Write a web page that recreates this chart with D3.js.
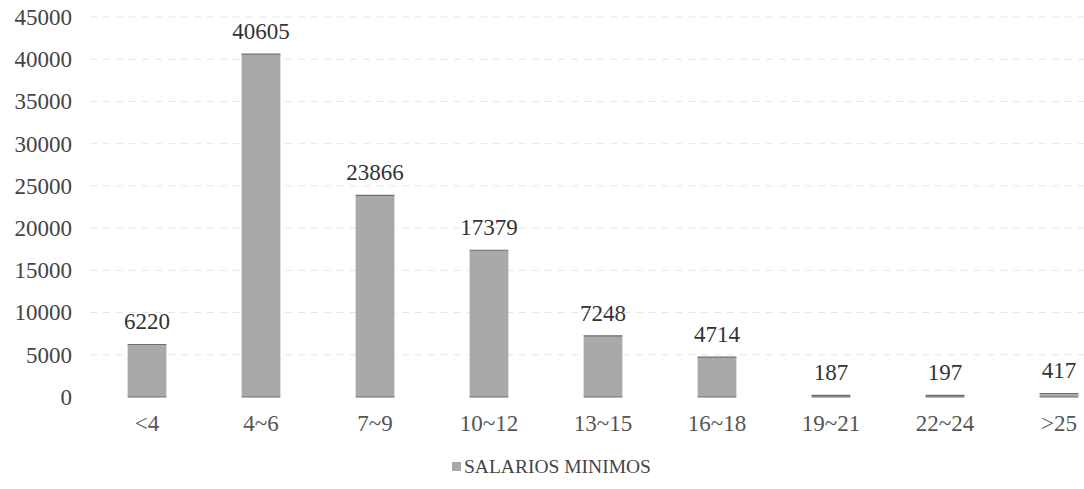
<html>
<script src='https://d3js.org/d3.v7.min.js'></script>
<style>
body {margin: 0; background: white;}
svg text {font-family: "Liberation Serif", "Times New Roman", Times, "DejaVu Serif", serif !important;}
</style>
<body>
<svg width=1084 height=489></svg>
<script>
var categories = ["<4", "4~6", "7~9", "10~12", "13~15", "16~18", "19~21", "22~24", ">25"];
var values = [6220, 40605, 23866, 17379, 7248, 4714, 187, 197, 417];
var yTicks = [0, 5000, 10000, 15000, 20000, 25000, 30000, 35000, 40000, 45000];
var seriesName = "SALARIOS MINIMOS";

var svg = d3.select("svg");

var x = d3.scaleBand().domain(categories).range([90, 1116]).paddingInner(0.66).paddingOuter(0.33);
var y = d3.scaleLinear().domain([0, 45000]).range([397, 17]);

// faint dashed gridlines
svg.append("g").selectAll("line").data(yTicks.slice(1)).enter().append("line")
	.attr("x1", 90).attr("x2", 1084)
	.attr("y1", d => y(d)).attr("y2", d => y(d))
	.attr("stroke", "#e6e6e6").attr("stroke-width", 1).attr("stroke-dasharray", "7,6");

// y axis
var yAxis = svg.append("g").attr("transform", "translate(80,0)")
	.call(d3.axisLeft(y).tickValues(yTicks).tickSize(0).tickPadding(8).tickFormat(d3.format("d")));
yAxis.attr("font-family", null).attr("font-size", null);
yAxis.select(".domain").remove();
yAxis.selectAll("text").style("font-size", "23px").attr("fill", "#444");

// bars
var bars = svg.append("g");
bars.selectAll("rect").data(values).enter().append("rect")
	.attr("x", (d, i) => x(categories[i]))
	.attr("y", d => y(d))
	.attr("width", x.bandwidth())
	.attr("height", d => y(0) - y(d))
	.attr("fill", "#a9a9a9");
// darker top and bottom edges of each bar
bars.selectAll("line.top").data(values).enter().append("line").attr("class", "top")
	.attr("x1", (d, i) => x(categories[i])).attr("x2", (d, i) => x(categories[i]) + x.bandwidth())
	.attr("y1", d => y(d)).attr("y2", d => y(d))
	.attr("stroke", "#6e6e6e").attr("stroke-width", 1.2);
bars.selectAll("line.bottom").data(values).enter().append("line").attr("class", "bottom")
	.attr("x1", (d, i) => x(categories[i])).attr("x2", (d, i) => x(categories[i]) + x.bandwidth())
	.attr("y1", y(0)).attr("y2", y(0))
	.attr("stroke", "#6e6e6e").attr("stroke-width", 1.2);

// value labels
svg.append("g").selectAll("text").data(values).enter().append("text")
	.attr("x", (d, i) => x(categories[i]) + x.bandwidth() / 2)
	.attr("y", d => y(d) - 15)
	.attr("text-anchor", "middle")
	.style("font-size", "23px").attr("fill", "#333")
	.text(d => d);

// x axis
var xAxis = svg.append("g").attr("transform", "translate(0," + y(0) + ")")
	.call(d3.axisBottom(x).tickSize(0).tickPadding(18));
xAxis.attr("font-family", null).attr("font-size", null);
xAxis.select(".domain").remove();
xAxis.selectAll("text").style("font-size", "23px").attr("fill", "#555");

// legend
var legend = svg.append("g").attr("transform", "translate(452,462)");
legend.append("rect").attr("width", 9).attr("height", 9).attr("fill", "#a9a9a9");
legend.append("text").attr("x", 12).attr("y", 11).style("font-size", "19.5px").attr("fill", "#444").text(seriesName);
</script>
</body>
</html>
